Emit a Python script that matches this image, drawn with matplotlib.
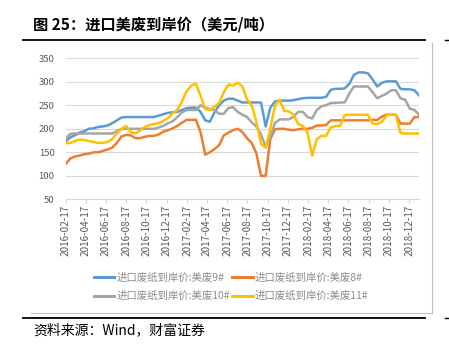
import pandas as pd
import matplotlib
matplotlib.use('Agg')
import matplotlib.pyplot as plt
from matplotlib.lines import Line2D

plt.rcParams['font.family'] = ['Noto Sans CJK SC', 'DejaVu Sans']

# biweekly samples, 2016-02-17 .. 2019-01-16
dates = pd.date_range('2016-02-17', periods=77, freq='14D')
tick_dates = pd.date_range('2016-02-17', periods=18, freq=pd.DateOffset(months=2))

us9 = [173, 182, 186, 192, 195, 200, 201, 204, 205, 207, 212, 218, 224, 225, 225, 225, 225, 225, 225, 225,
       228, 231, 234, 235, 236, 240, 244, 245, 245, 236, 218, 215, 235, 250, 260, 264, 264, 260, 256, 256,
       256, 256, 256, 205, 245, 258, 260, 260, 260, 261, 263, 265, 266, 266, 266, 266, 268, 283, 285, 285,
       286, 296, 315, 320, 320, 318, 305, 290, 298, 301, 301, 301, 285, 284, 284, 282, 271]
us8 = [125, 137, 141, 143, 146, 147, 150, 150, 153, 156, 160, 170, 184, 187, 186, 180, 180, 183, 185, 185,
       188, 194, 197, 201, 206, 213, 219, 219, 219, 193, 145, 150, 157, 165, 186, 192, 197, 200, 193, 180,
       170, 148, 100, 100, 178, 199, 200, 200, 198, 197, 199, 200, 200, 202, 207, 207, 208, 218, 218, 218,
       218, 218, 218, 218, 218, 218, 219, 219, 226, 230, 230, 230, 211, 211, 211, 225, 225]
us10 = [180, 189, 190, 190, 190, 190, 190, 190, 190, 190, 190, 195, 200, 200, 200, 200, 200, 200, 200, 200,
        203, 206, 212, 216, 225, 235, 240, 240, 240, 250, 245, 242, 240, 232, 232, 244, 246, 236, 230, 225,
        214, 205, 188, 162, 182, 212, 220, 220, 220, 226, 236, 236, 225, 222, 240, 248, 250, 255, 255, 256,
        256, 275, 290, 290, 290, 290, 278, 265, 270, 275, 282, 282, 265, 262, 243, 240, 230]
us11 = [169, 170, 174, 177, 176, 174, 172, 170, 170, 172, 178, 190, 200, 206, 193, 190, 196, 204, 208, 210,
        212, 217, 223, 233, 240, 258, 280, 292, 296, 270, 242, 240, 247, 255, 278, 294, 292, 298, 290, 262,
        250, 215, 168, 160, 200, 250, 262, 238, 237, 230, 210, 206, 192, 143, 178, 185, 185, 203, 206, 206,
        229, 230, 230, 230, 230, 230, 211, 210, 215, 228, 230, 230, 191, 190, 190, 190, 190]

names = ['进口废纸到岸价:美废9#', '进口废纸到岸价:美废8#', '进口废纸到岸价:美废10#', '进口废纸到岸价:美废11#']
colors = ['#5B9BD5', '#ED7D31', '#A5A5A5', '#FFC000']
series = [us9, us8, us10, us11]

W, H = 449, 352
fig = plt.figure(figsize=(W / 100, H / 100), dpi=100)
ax = fig.add_axes([65.7 / W, 1 - 199.3 / H, (419.1 - 65.7) / W, (199.3 - 58.3) / H])

lines = []
for vals, c in zip(series, colors):
    ln, = ax.plot(dates, vals, color=c, lw=1.8, solid_joinstyle='round', zorder=3)
    lines.append(ln)

ax.set_ylim(50, 350)
ax.set_yticks(range(50, 351, 50))
ax.set_xlim(dates[0], dates[-1])
ax.set_xticks(tick_dates)
ax.set_xticklabels([d.strftime('%Y-%m-%d') for d in tick_dates], rotation=90)
ax.grid(axis='y', color='#D9D9D9', lw=0.8)
ax.set_axisbelow(True)
for s in ['top', 'right', 'left']:
    ax.spines[s].set_visible(False)
ax.spines['bottom'].set_color('#D9D9D9')
ax.tick_params(axis='x', direction='out', length=3, color='#D9D9D9', labelsize=7.2,
               labelcolor='#595959', pad=1)
ax.tick_params(axis='y', length=0, labelsize=6.8, labelcolor='#595959', pad=8)

# legend: row1 9#, 8#; row2 10#, 11#
order = [0, 2, 1, 3]
leg = fig.legend([lines[i] for i in order], [names[i] for i in order], ncol=2, loc='center',
                 bbox_to_anchor=(231 / W, 1 - 287 / H), frameon=False, fontsize=7.5,
                 handlelength=2.0, handletextpad=0.2, columnspacing=0.2, labelspacing=0.8)
for t in leg.get_texts():
    t.set_color('#8C8C8C')
for h in leg.legend_handles:
    h.set_linewidth(2.2)

# chart box edges and report rules
fig.add_artist(Line2D([432 / W, 432 / W], [1 - 43 / H, 1 - 313 / H], color='#BFBFBF', lw=0.8))
fig.add_artist(Line2D([30.7 / W, 432 / W], [1 - 313 / H, 1 - 313 / H], color='#BFBFBF', lw=0.8))
for yy in [40, 318]:
    fig.add_artist(Line2D([22.7 / W, 425 / W], [1 - yy / H, 1 - yy / H], color='black', lw=1.3))
    fig.add_artist(Line2D([445 / W, 449 / W], [1 - yy / H, 1 - yy / H], color='black', lw=1.0))

fig.text(33 / W, 1 - 25 / H, '图 25：进口美废到岸价（美元/吨）', fontsize=11, fontweight='bold',
         va='center', ha='left')
fig.text(33 / W, 1 - 330 / H, '资料来源：Wind，财富证券', fontsize=10, va='center', ha='left')

fig.savefig('out.png', dpi=100)
